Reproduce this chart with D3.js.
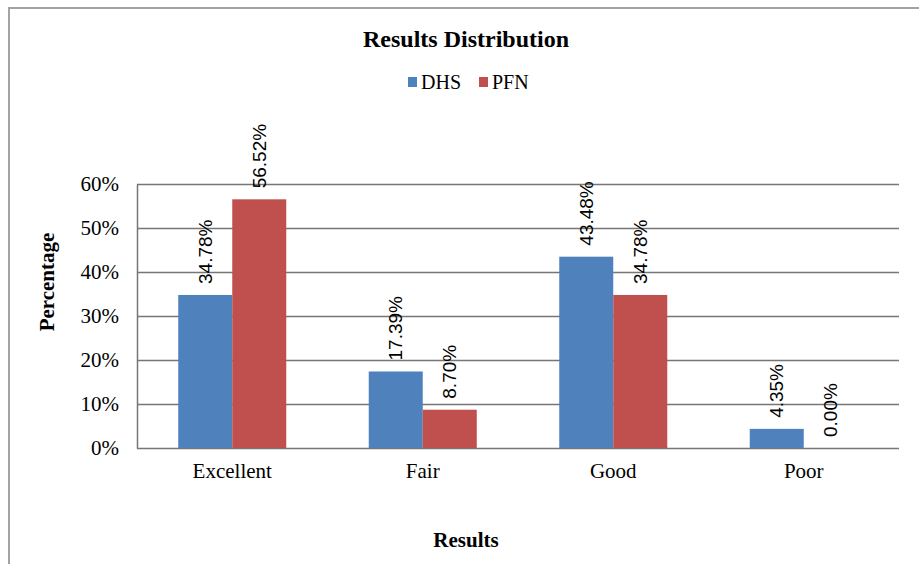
<!DOCTYPE html>
<html>
<head>
<meta charset="utf-8">
<script src="https://cdn.jsdelivr.net/npm/d3@7"></script>
<style>
  html, body { margin: 0; padding: 0; background: #fff; }
  svg { display: block; }
</style>
</head>
<body>
<svg id="chart" width="919" height="564"></svg>
<script>
// Results distribution by category, two series
const categories = ["Excellent", "Fair", "Good", "Poor"];
const seriesNames = ["DHS", "PFN"];
const dhsValues = [0.3478, 0.1739, 0.4348, 0.0435];
const pfnValues = [0.5652, 0.0870, 0.3478, 0.0000];
const yTicks = [0, 0.1, 0.2, 0.3, 0.4, 0.5, 0.6];
const colors = ["#4F81BD", "#C0504D"];

const rows = categories.map((c, i) => ({
  category: c,
  values: [
    { key: seriesNames[0], value: dhsValues[i] },
    { key: seriesNames[1], value: pfnValues[i] }
  ]
}));

const svg = d3.select("#chart");
const serif = "'Liberation Serif', 'Times New Roman', serif";
const sans = "'Liberation Sans', Arial, sans-serif";

// outer frame
svg.append("path")
  .attr("d", "M9,564 V8 H919")
  .attr("fill", "none")
  .attr("stroke", "#a3a3a3")
  .attr("stroke-width", 2);

const plot = { left: 137, right: 899, top: 184, bottom: 448 };

const x0 = d3.scaleBand()
  .domain(categories)
  .range([plot.left, plot.right])
  .paddingInner(0.433)
  .paddingOuter(0.2165);

const x1 = d3.scaleBand()
  .domain(seriesNames)
  .range([0, x0.bandwidth()]);

const y = d3.scaleLinear()
  .domain([0, 0.6])
  .range([plot.bottom, plot.top]);

const color = d3.scaleOrdinal().domain(seriesNames).range(colors);

// horizontal gridlines
svg.append("g")
  .selectAll("line")
  .data(yTicks)
  .join("line")
  .attr("x1", plot.left)
  .attr("x2", plot.right)
  .attr("y1", d => Math.round(y(d)) + 0.5)
  .attr("y2", d => Math.round(y(d)) + 0.5)
  .attr("stroke", "#767676")
  .attr("stroke-width", 1.5);

// y axis
const yAxis = d3.axisLeft(y)
  .tickValues(yTicks)
  .tickFormat(d3.format(".0%"))
  .tickSize(0)
  .tickPadding(18);

const yg = svg.append("g")
  .attr("transform", `translate(${plot.left},0)`)
  .call(yAxis);
yg.select(".domain").attr("stroke", "#767676").attr("stroke-width", 1.5);
yg.selectAll("text")
  .attr("font-family", serif)
  .attr("font-size", 21)
  .attr("fill", "#000");

// x axis labels
const xAxis = d3.axisBottom(x0).tickSize(0).tickPadding(15);
const xg = svg.append("g")
  .attr("transform", `translate(0,${plot.bottom})`)
  .call(xAxis);
xg.select(".domain").remove();
xg.selectAll("text")
  .attr("font-family", serif)
  .attr("font-size", 21)
  .attr("fill", "#000");

// bars
const groups = svg.append("g")
  .selectAll("g")
  .data(rows)
  .join("g")
  .attr("transform", d => `translate(${x0(d.category)},0)`);

groups.selectAll("rect")
  .data(d => d.values)
  .join("rect")
  .attr("x", d => x1(d.key))
  .attr("y", d => y(d.value))
  .attr("width", x1.bandwidth())
  .attr("height", d => y(0) - y(d.value))
  .attr("fill", d => color(d.key));

// rotated value labels
groups.selectAll("text")
  .data(d => d.values)
  .join("text")
  .attr("transform", d =>
    `translate(${x1(d.key) + x1.bandwidth() / 2},${y(d.value) - 11}) rotate(-90)`)
  .attr("text-anchor", "start")
  .attr("dominant-baseline", "central")
  .attr("font-family", sans)
  .attr("font-size", 19)
  .attr("fill", "#000")
  .text(d => d3.format(".2%")(d.value));

// title
svg.append("text")
  .attr("x", 466)
  .attr("y", 47)
  .attr("text-anchor", "middle")
  .attr("font-family", serif)
  .attr("font-weight", "bold")
  .attr("font-size", 24)
  .text("Results Distribution");

// legend
const legend = svg.append("g");
const legendX = [408, 479];
seriesNames.forEach((name, i) => {
  legend.append("rect")
    .attr("x", legendX[i])
    .attr("y", 77)
    .attr("width", 9)
    .attr("height", 10)
    .attr("fill", colors[i]);
  legend.append("text")
    .attr("x", legendX[i] + 13)
    .attr("y", 89)
    .attr("font-family", serif)
    .attr("font-size", 20)
    .text(name);
});

// axis titles
svg.append("text")
  .attr("transform", "translate(54,282) rotate(-90)")
  .attr("text-anchor", "middle")
  .attr("font-family", serif)
  .attr("font-weight", "bold")
  .attr("font-size", 21)
  .text("Percentage");

svg.append("text")
  .attr("x", 466)
  .attr("y", 547)
  .attr("text-anchor", "middle")
  .attr("font-family", serif)
  .attr("font-weight", "bold")
  .attr("font-size", 21)
  .text("Results");
</script>
</body>
</html>
